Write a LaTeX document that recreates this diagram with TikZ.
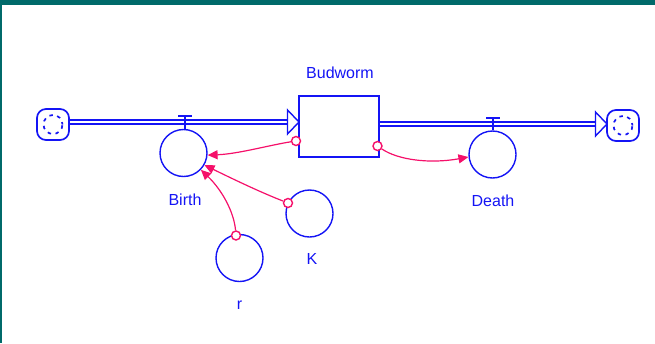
\documentclass[tikz,border=0pt]{standalone}
\usepackage{fontspec}
\setmainfont{Liberation Sans}
\usetikzlibrary{arrows.meta}
\definecolor{sblue}{HTML}{1414F5}
\definecolor{spink}{HTML}{F5106A}
\definecolor{steal}{HTML}{006A6A}
\begin{document}
\begin{tikzpicture}[x=1pt,y=-1pt,
  lbl/.style={text=sblue,font=\fontsize{16}{19}\selectfont,inner sep=0pt},
  cloudbox/.style={rectangle,rounded corners=9pt,draw=sblue,line width=1.7pt,minimum width=32pt,minimum height=31pt,inner sep=0pt},
  stockbox/.style={rectangle,draw=sblue,line width=1.5pt,minimum width=80pt,minimum height=61pt,inner sep=0pt},
  aux/.style={circle,draw=sblue,line width=1.4pt,minimum size=47pt,inner sep=0pt},
  src/.style={circle,draw=spink,line width=1.4pt,minimum size=9pt,inner sep=0pt,fill=white},
  conn/.style={draw=spink,line width=1.2pt,-{Triangle[length=10pt,width=9pt]}},
  pipe/.style={draw=sblue,line width=1.7pt,double=white,double distance=2.2pt},
  flowhead/.style={draw=sblue,line width=1.4pt,fill=white,line join=miter},
  valve/.style={draw=sblue,line width=1.5pt}]
\useasboundingbox (0,0) rectangle (655,343);
% frame
\fill[steal] (0,0) rectangle (655,5);
\draw[steal,line width=1.6pt] (0.8,5) -- (0.8,343);
% nodes
\node[cloudbox] (c1) at (53,124.5) {};
\node[cloudbox] (c2) at (623,125.5) {};
\node[stockbox] (bud) at (339,126.5) {};
\node[aux] (birth) at (183.5,153) {};
\node[aux] (death) at (492.5,154.5) {};
\node[aux] (k) at (309.5,213.5) {};
\node[aux] (r) at (239.5,258) {};
\node[lbl] (lbud) at (340,72.5) {Budworm};
\node[lbl] (lbirth) at (185,199.5) {Birth};
\node[lbl] (ldeath) at (493,200.5) {Death};
\node[lbl] (lk) at (312,259) {K};
\node[lbl] (lr) at (239.5,305) {r};
% cloud swirls
\foreach \c in {c1,c2}
  \draw[sblue,line width=1.7pt,dash pattern=on 3.5pt off 4.5pt,dash phase=1pt] (\c.center) circle (9.5pt);
% flow pipes
\coordinate (h1) at (287.5,122);
\coordinate (h2) at (595.5,124);
\draw[pipe] (c1.east |- h1) -- (h1);
\draw[flowhead] (287.5,110) -- (299,122) -- (287.5,134) -- cycle;
\draw[pipe] (bud.east |- h2) -- (h2);
\draw[flowhead] (595.5,112) -- (607,124) -- (595.5,136) -- cycle;
% valves
\draw[valve] (178,116) -- (192,116);
\draw[valve] (185,116) -- (birth.north -| 185,0);
\draw[valve] (486,118) -- (500,118);
\draw[valve] (493,118) -- (death.north -| 493,0);
% connector sources
\node[src] (s1) at (296,141) {};
\node[src] (s2) at (288,203) {};
\node[src] (s3) at (236,235.5) {};
\node[src] (s4) at (377.5,146) {};
% connectors
\draw[conn] (s1) .. controls (270,145) and (238,154) .. (birth.-5);
\draw[conn] (s2) .. controls (260,192) and (235,180) .. (birth.-30);
\draw[conn] (s3) .. controls (234,212) and (222,190) .. (birth.-44);
\draw[conn] (s4) .. controls (398,160) and (430,164) .. (death.186);
\end{tikzpicture}
\end{document}
